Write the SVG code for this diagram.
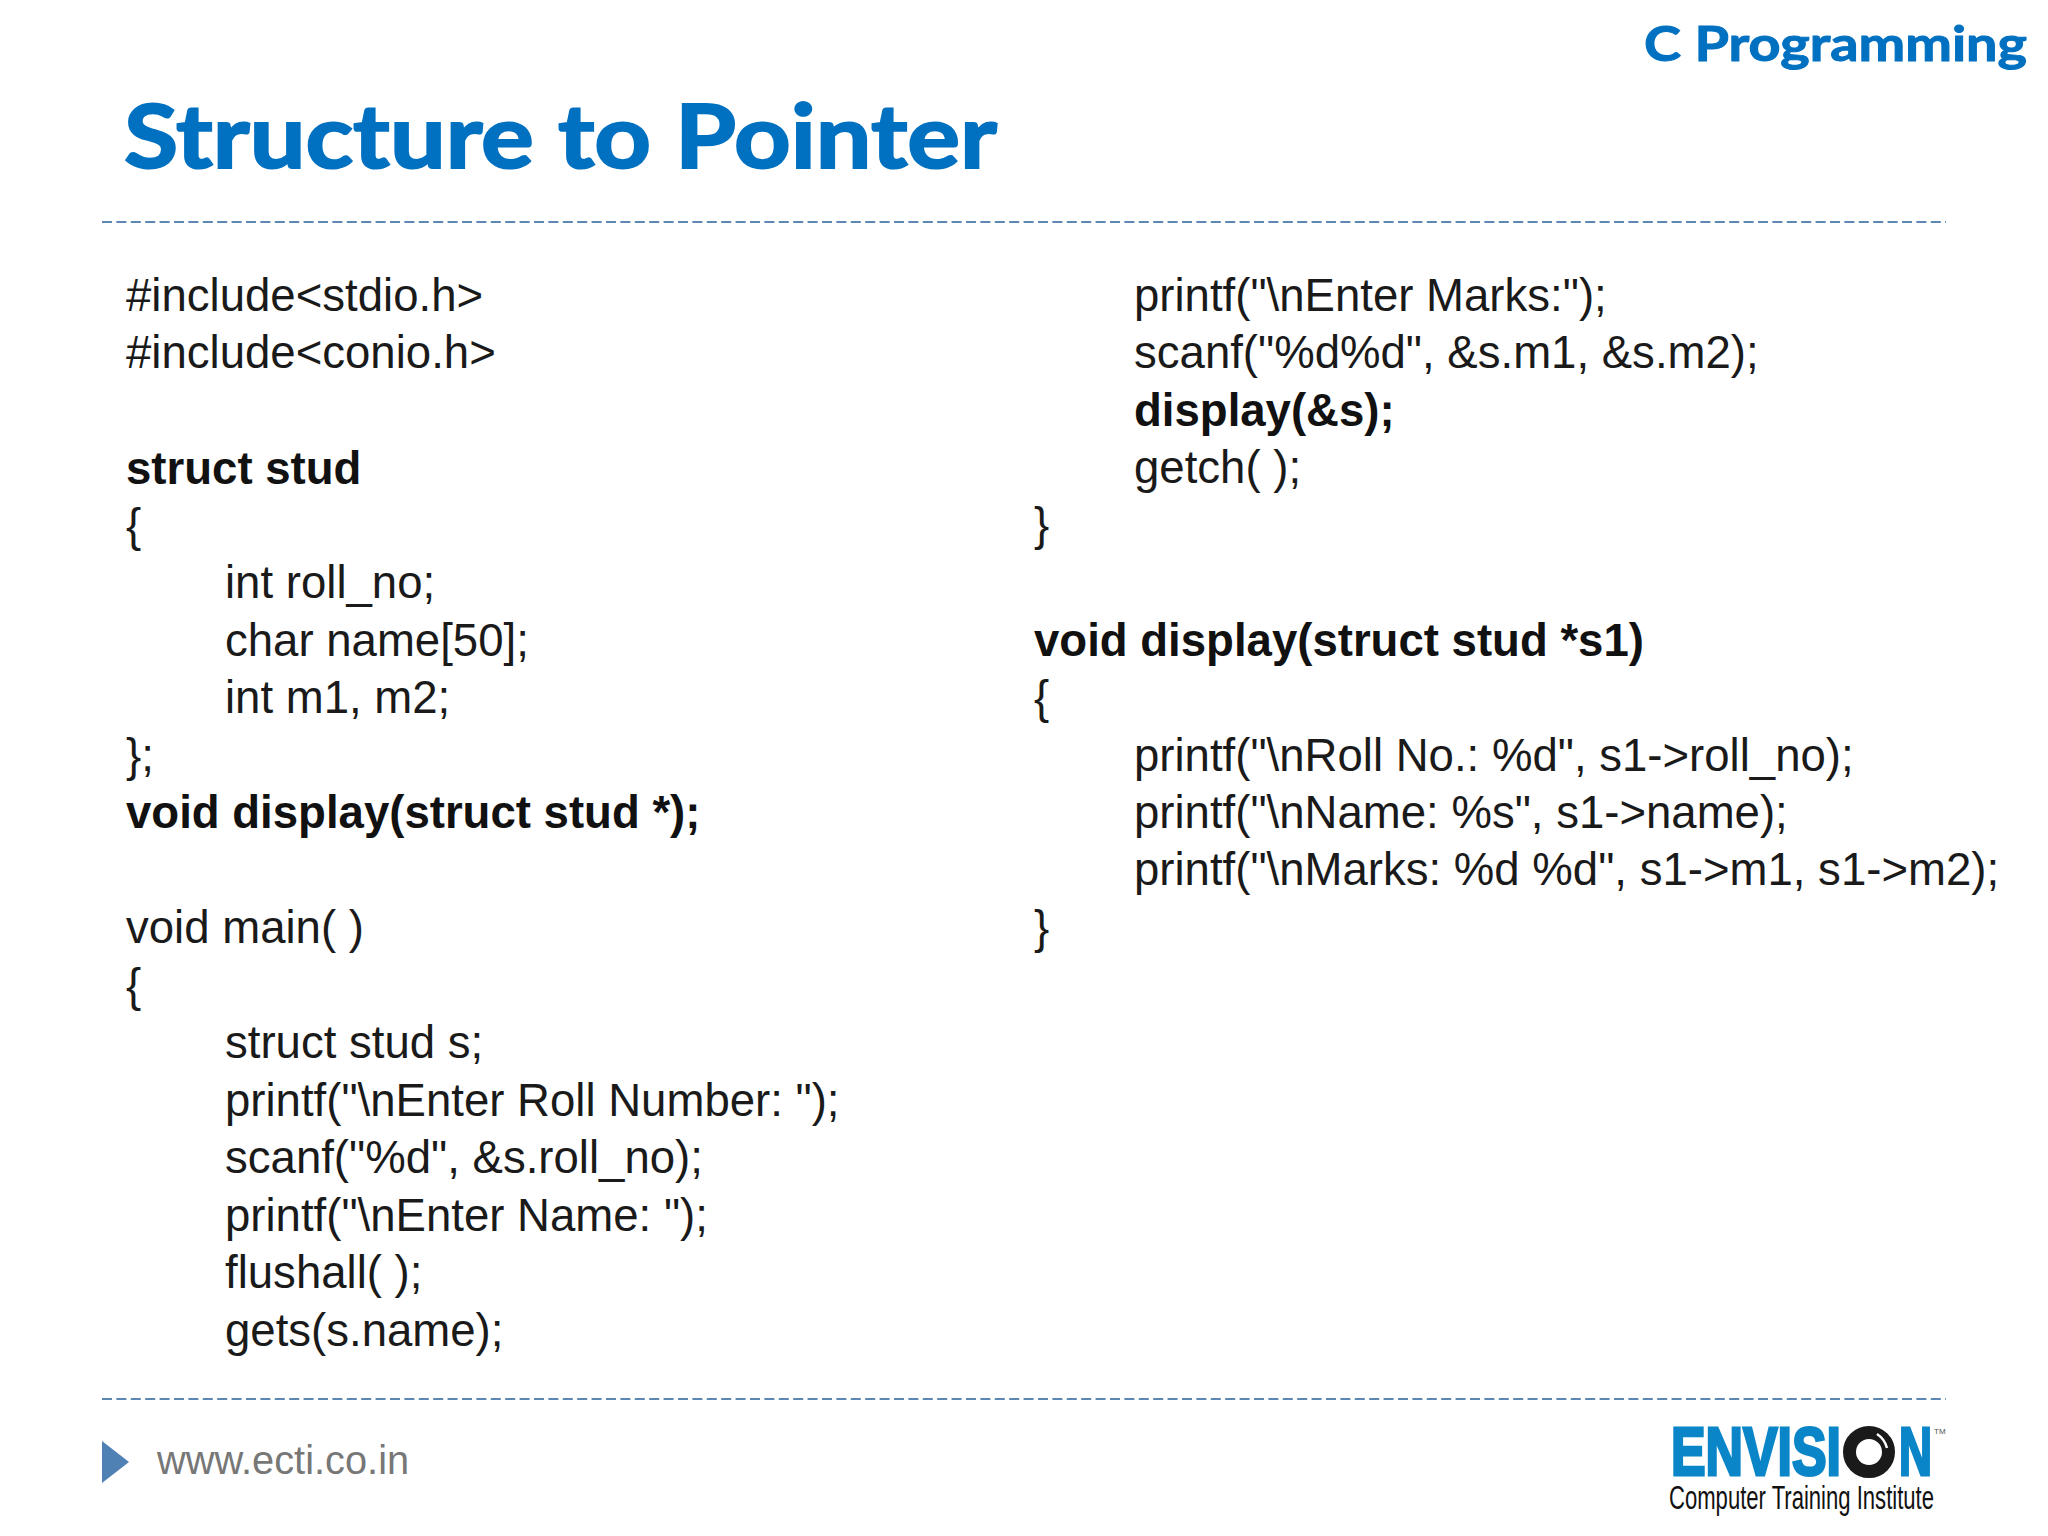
<svg xmlns="http://www.w3.org/2000/svg" width="2048" height="1536" viewBox="0 0 2048 1536">
<style>
.h{font-family:"Lato","Open Sans",sans-serif;font-weight:700;fill:#0070c0;stroke:#0070c0}
.c{font-family:"Liberation Sans",Arial,sans-serif;font-size:45.55px;fill:#1a1a1a}
.b{font-weight:700;fill:#111}
.d{stroke:#5b87b2;stroke-width:2;stroke-dasharray:10 4.4;fill:none}
.logo{font-family:"Liberation Sans",Arial,sans-serif;font-weight:700;fill:#0a86c8;stroke:#0a86c8;stroke-width:3}
</style>
<rect width="2048" height="1536" fill="#ffffff"/>
<g id="header">
<text class="h" x="1644" y="61" font-size="48" stroke-width="1" textLength="383" lengthAdjust="spacingAndGlyphs">C Programming</text>
<text class="h" x="124" y="168" font-size="88" stroke-width="2" textLength="873" lengthAdjust="spacingAndGlyphs">Structure to Pointer</text>
</g>
<g id="rules">
<line class="d" x1="102" y1="222" x2="1946" y2="222"/>
<line class="d" x1="102" y1="1399" x2="1946" y2="1399"/>
</g>
<g id="left-code">
<text class="c" x="126" y="311">#include&lt;stdio.h&gt;</text>
<text class="c" x="126" y="368">#include&lt;conio.h&gt;</text>
<text class="c b" x="126" y="484">struct stud</text>
<text class="c" x="126" y="541">{</text>
<text class="c" x="225" y="598">int roll_no;</text>
<text class="c" x="225" y="656">char name[50];</text>
<text class="c" x="225" y="713">int m1, m2;</text>
<text class="c" x="126" y="771">};</text>
<text class="c b" x="126" y="828">void display(struct stud *);</text>
<text class="c" x="126" y="943">void main( )</text>
<text class="c" x="126" y="1001">{</text>
<text class="c" x="225" y="1058">struct stud s;</text>
<text class="c" x="225" y="1116">printf("\nEnter Roll Number: ");</text>
<text class="c" x="225" y="1173">scanf("%d", &amp;s.roll_no);</text>
<text class="c" x="225" y="1231">printf("\nEnter Name: ");</text>
<text class="c" x="225" y="1288">flushall( );</text>
<text class="c" x="225" y="1346">gets(s.name);</text>
</g>
<g id="right-code">
<text class="c" x="1134" y="311">printf("\nEnter Marks:");</text>
<text class="c" x="1134" y="368">scanf("%d%d", &amp;s.m1, &amp;s.m2);</text>
<text class="c b" x="1134" y="426">display(&amp;s);</text>
<text class="c" x="1134" y="483">getch( );</text>
<text class="c" x="1034" y="540">}</text>
<text class="c b" x="1034" y="656">void display(struct stud *s1)</text>
<text class="c" x="1034" y="713">{</text>
<text class="c" x="1134" y="771">printf("\nRoll No.: %d", s1-&gt;roll_no);</text>
<text class="c" x="1134" y="828">printf("\nName: %s", s1-&gt;name);</text>
<text class="c" x="1134" y="885">printf("\nMarks: %d %d", s1-&gt;m1, s1-&gt;m2);</text>
<text class="c" x="1034" y="943">}</text>
</g>
<g id="footer">
<polygon points="102,1441 129,1462 102,1483" fill="#4f81b5"/>
<text x="157" y="1474" font-family="'Liberation Sans',Arial,sans-serif" font-size="39.8" fill="#777777">www.ecti.co.in</text>
</g>
<g id="logo">
<text class="logo" x="1671" y="1475" font-size="68" textLength="170" lengthAdjust="spacingAndGlyphs">ENVISI</text>
<circle cx="1869" cy="1452" r="19.5" fill="#ffffff" stroke="#1a1a1a" stroke-width="13"/>
<path d="M1877 1434a24 24 0 0 1 10 14" stroke="#fff" stroke-width="2.5" fill="none"/>
<text class="logo" x="1899" y="1475" font-size="68" textLength="33" lengthAdjust="spacingAndGlyphs">N</text>
<text x="1934" y="1434" font-family="'Liberation Sans',Arial,sans-serif" font-size="8" fill="#555">TM</text>
<text x="1669" y="1509" font-family="'Liberation Sans',Arial,sans-serif" font-size="34" fill="#111" textLength="265" lengthAdjust="spacingAndGlyphs">Computer Training Institute</text>
</g>
</svg>
